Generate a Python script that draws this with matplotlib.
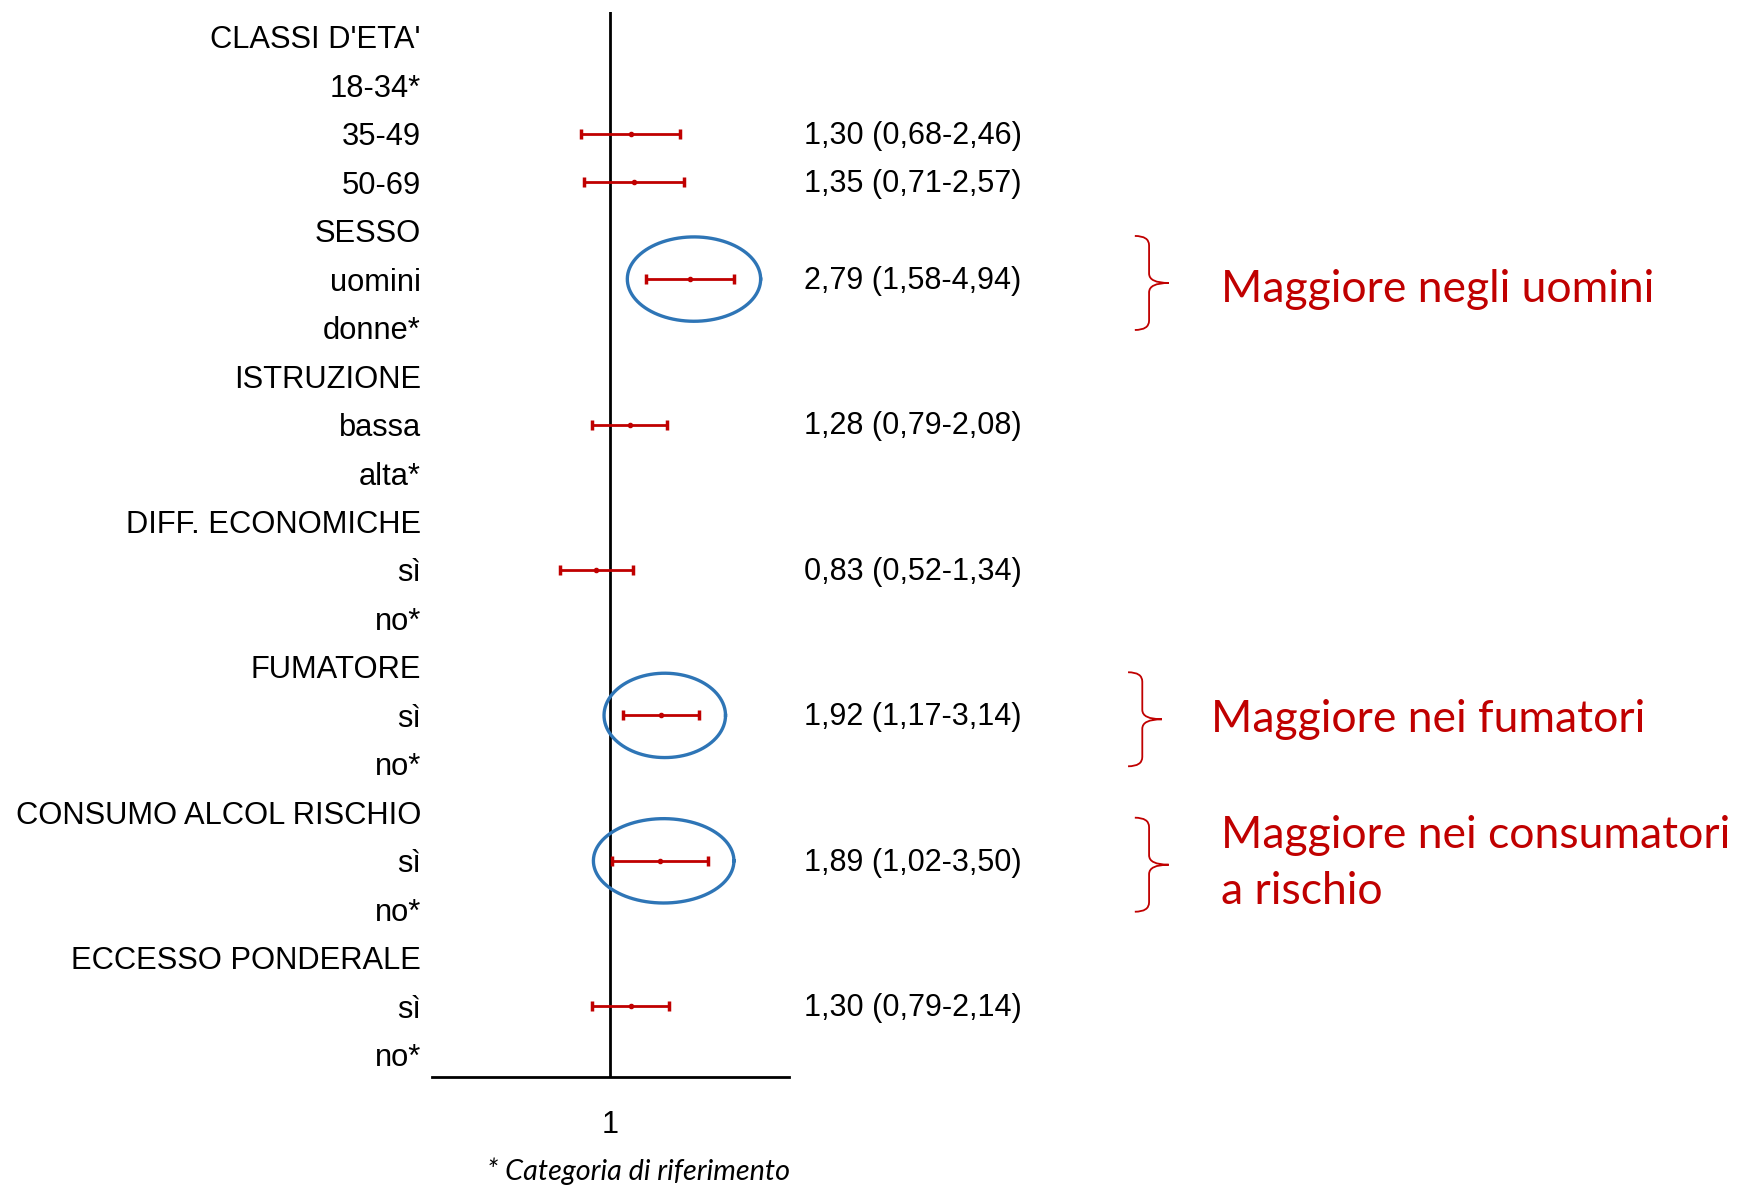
import matplotlib

matplotlib.use('Agg')
import matplotlib.pyplot as plt
import numpy as np
from matplotlib.patches import PathPatch
from matplotlib.path import Path
from matplotlib.transforms import blended_transform_factory

# rows of the forest plot, top to bottom
labels = ["CLASSI D'ETA'", "18-34*", "35-49", "50-69", "SESSO", "uomini", "donne*",
          "ISTRUZIONE", "bassa", "alta*", "DIFF. ECONOMICHE", "sì", "no*",
          "FUMATORE", "sì", "no*", "CONSUMO ALCOL RISCHIO", "sì", "no*",
          "ECCESSO PONDERALE", "sì", "no*"]
odds = [None, None, 1.30, 1.35, None, 2.79, None, None, 1.28, None, None, 0.83, None,
        None, 1.92, None, None, 1.89, None, None, 1.30, None]
ci_low = [None, None, 0.68, 0.71, None, 1.58, None, None, 0.79, None, None, 0.52, None,
          None, 1.17, None, None, 1.02, None, None, 0.79, None]
ci_high = [None, None, 2.46, 2.57, None, 4.94, None, None, 2.08, None, None, 1.34, None,
           None, 3.14, None, None, 3.50, None, None, 2.14, None]

highlight_rows = [5, 14, 17]
notes = ["Maggiore negli uomini", "Maggiore nei fumatori",
         "Maggiore nei consumatori\na rischio"]
footnote = "* Categoria di riferimento"

RED = '#C00000'
BLUE = '#2E75B6'
LABEL_FONT = 'Liberation Sans'
NOTE_FONT = 'Lato'


def it_num(v):
    return f"{v:.2f}".replace('.', ',')


def brace_path(x0, w, yc, half):
    # curly brace "}" with its tip pointing right
    s = x0 + 0.42 * w
    verts = [(x0, yc - half), (s, yc - half), (s, yc - 0.8 * half),
             (s, yc - 0.2 * half),
             (s, yc), (x0 + w, yc),
             (s, yc), (s, yc + 0.2 * half),
             (s, yc + 0.8 * half),
             (s, yc + half), (x0, yc + half)]
    codes = [Path.MOVETO, Path.CURVE3, Path.CURVE3, Path.LINETO,
             Path.CURVE3, Path.CURVE3, Path.CURVE3, Path.CURVE3,
             Path.LINETO, Path.CURVE3, Path.CURVE3]
    return Path(verts, codes)


fig = plt.figure(figsize=(17.37, 11.85), dpi=100)
ax = fig.add_axes([0.2487, 0.0911, 0.2055, 0.8988])
ax.set_xscale('log')
ax.set_xlim(0.1, 10)
ax.set_ylim(21.46, -0.51)

ax.axvline(1, color='black', lw=2)
for sp in ['left', 'right', 'top']:
    ax.spines[sp].set_visible(False)
ax.spines['bottom'].set_linewidth(2)

rows = np.arange(len(labels))
ax.set_yticks(rows)
ax.set_yticklabels(labels, fontsize=22.2, family=LABEL_FONT)
ax.set_xticks([1])
ax.set_xticklabels(['1'], fontsize=22, family=LABEL_FONT)
ax.xaxis.set_minor_locator(matplotlib.ticker.NullLocator())
ax.tick_params(axis='y', length=0, pad=8)
ax.tick_params(axis='x', length=0, pad=24)

side = blended_transform_factory(ax.transAxes, ax.transData)
for r, (o, lo, hi) in enumerate(zip(odds, ci_low, ci_high)):
    if o is None:
        continue
    ax.errorbar(o, r, xerr=[[o - lo], [hi - o]], fmt='o', ms=3, color=RED,
                elinewidth=2, capsize=3.5, capthick=2.5)
    ax.text(1.042, r + 0.04, f"{it_num(o)} ({it_num(lo)}-{it_num(hi)})", transform=side,
            ha='left', va='center', fontsize=22, family=LABEL_FONT)

# blue rings around the significant estimates
t = np.linspace(0, 2 * np.pi, 300)
for r in highlight_rows:
    a, b = np.log(ci_low[r]), np.log(ci_high[r])
    cx = (a + b) / 2 + 0.05
    rx = (b - a) / 2 + 0.29
    ax.plot(np.exp(cx + rx * np.cos(t)), r + 0.87 * np.sin(t), color=BLUE, lw=2.4,
            clip_on=False)

brace_x = [1.969, 1.950, 1.969]
note_x = [2.210, 2.182, 2.210]
note_dy = [0.22, 0.08, 0.05]
for r, text, bx, nx, dy in zip(highlight_rows, notes, brace_x, note_x, note_dy):
    ax.add_patch(PathPatch(brace_path(bx, 0.095, r + 0.08, 0.97), transform=side,
                           fill=False, edgecolor=RED, lw=1.3, clip_on=False))
    ax.text(nx, r + dy, text, transform=side, ha='left', va='center', color=RED,
            fontsize=32, family=NOTE_FONT, linespacing=1.45)

fig.text(0.2804, 0.0118, footnote, ha='left', va='center', fontsize=20.7,
         family=NOTE_FONT, style='italic')

fig.savefig('out.png', dpi=100)
